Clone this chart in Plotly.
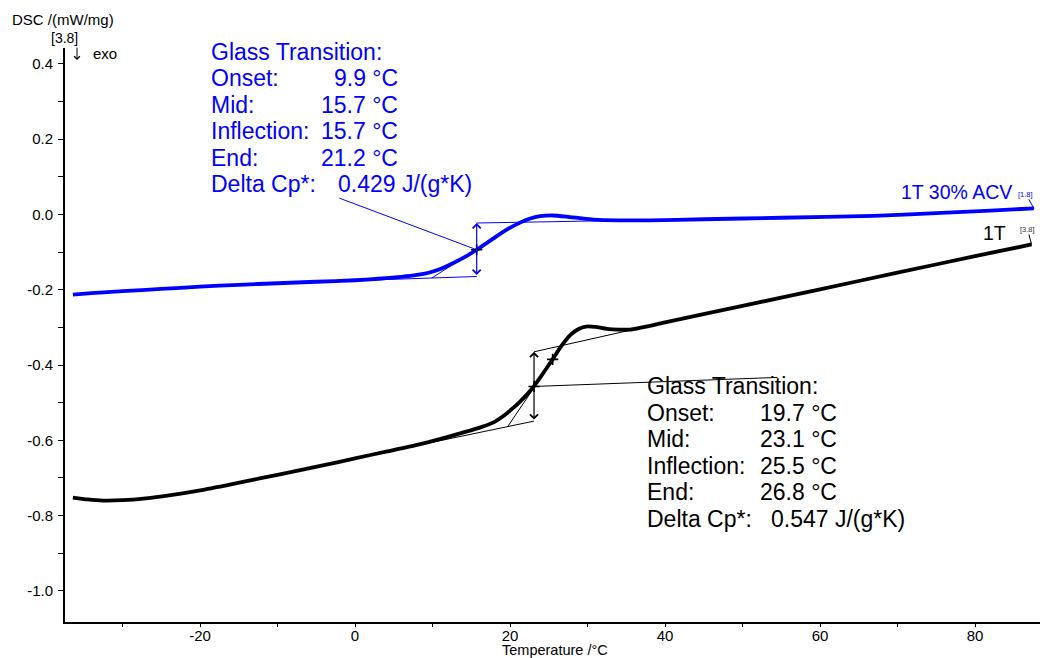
import numpy as np
import plotly.graph_objects as go

# DSC heating curves: temperature (°C) and heat flow (mW/mg), exo down
acv_T = [-36.4, -34, -30, -25, -20, -15, -10, -5, 0, 3, 6, 8, 9.5, 11, 12.7, 14.2,
         15.7, 17, 18.2, 19.8, 21.3, 22.6, 23.9, 25.5, 27.3, 29, 30.8, 34, 38, 45,
         55, 66.9, 75, 82, 87.6]
acv_dsc = [-0.213, -0.209, -0.204, -0.198, -0.192, -0.187, -0.183, -0.179, -0.175,
           -0.171, -0.166, -0.161, -0.155, -0.145, -0.129, -0.113, -0.094, -0.076,
           -0.059, -0.038, -0.022, -0.011, -0.005, -0.003, -0.006, -0.010, -0.014,
           -0.016, -0.016, -0.013, -0.009, -0.004, 0.003, 0.010, 0.016]

ref_T = [-36.4, -34.5, -32.5, -30, -27, -24, -20, -16, -12, -8, -4, 0, 4, 8, 11.4,
         14, 16, 17.8, 19.1, 20.3, 21.3, 22.2, 23.1, 24, 25, 25.5, 26.5, 27.8, 28.8,
         29.8, 31, 32.5, 34, 35.5, 40, 50, 60, 70, 80, 87.3]
ref_dsc = [-0.752, -0.757, -0.760, -0.759, -0.754, -0.746, -0.733, -0.717, -0.700,
           -0.683, -0.666, -0.648, -0.630, -0.612, -0.594, -0.579, -0.567, -0.553,
           -0.536, -0.516, -0.497, -0.478, -0.456, -0.430, -0.400, -0.385, -0.353,
           -0.320, -0.305, -0.298, -0.299, -0.304, -0.306, -0.306, -0.287, -0.243,
           -0.199, -0.155, -0.111, -0.080]

# glass transition evaluation results
gt_labels = ["Onset:", "Mid:", "Inflection:", "End:"]
acv_gt_T = [9.9, 15.7, 15.7, 21.2]
acv_dcp = 0.429
ref_gt_T = [19.7, 23.1, 25.5, 26.8]
ref_dcp = 0.547

# extrapolated baselines of the step evaluation
acv_base_lo_T = [-3.0, 15.7]
acv_base_lo = [-0.178, -0.165]
acv_base_hi_T = [15.7, 35.0]
acv_base_hi = [-0.023, -0.016]
ref_base_lo_T = [0.0, 23.1]
ref_base_lo = [-0.648, -0.549]
ref_base_hi_T = [23.1, 38.0]
ref_base_hi = [-0.365, -0.296]

# axis ticks
x_ticks = [-20, 0, 20, 40, 60, 80]
x_minor = [-30, -10, 10, 30, 50, 70]
y_ticks = [0.4, 0.2, 0.0, -0.2, -0.4, -0.6, -0.8, -1.0]
y_minor = [0.3, 0.1, -0.1, -0.3, -0.5, -0.7, -0.9]

BLUE = "#0000ff"
BLACK = "#000000"
FONT = "Arial, Liberation Sans, sans-serif"

W, H = 1040, 658
ML, MR, MT, MB = 65, 0, 48, 36
PW, PH = W - ML - MR, H - MT - MB


def px(x):
    return (x - ML) / PW


def py(y):
    return (H - MB - y) / PH


def on_line(ts, vs, t):
    return vs[0] + (vs[1] - vs[0]) * (t - ts[0]) / (ts[1] - ts[0])


fig = go.Figure()

# measured curves
fig.add_trace(go.Scatter(x=acv_T, y=acv_dsc, mode="lines",
                         line=dict(color=BLUE, width=3.8, shape="spline", smoothing=0.6),
                         hoverinfo="skip"))
fig.add_trace(go.Scatter(x=ref_T, y=ref_dsc, mode="lines",
                         line=dict(color=BLACK, width=3.8, shape="spline", smoothing=0.6),
                         hoverinfo="skip"))


def add_evaluation(gt_T, base_lo_T, base_lo, base_hi_T, base_hi, curve_T, curve_dsc,
                   color, leader_end):
    onset, mid, infl, end = gt_T
    lo_mid = on_line(base_lo_T, base_lo, mid)
    hi_mid = on_line(base_hi_T, base_hi, mid)
    mid_val = 0.5 * (lo_mid + hi_mid)
    thin = dict(color=color, width=1)
    # baselines
    fig.add_trace(go.Scatter(x=base_lo_T, y=base_lo, mode="lines", line=thin, hoverinfo="skip"))
    fig.add_trace(go.Scatter(x=base_hi_T, y=base_hi, mode="lines", line=thin, hoverinfo="skip"))
    # inflection tangent between onset and end
    fig.add_trace(go.Scatter(x=[onset, end],
                             y=[on_line(base_lo_T, base_lo, onset), on_line(base_hi_T, base_hi, end)],
                             mode="lines", line=thin, hoverinfo="skip"))
    # leader to the result text
    fig.add_trace(go.Scatter(x=[mid, leader_end[0]], y=[mid_val, leader_end[1]],
                             mode="lines", line=thin, hoverinfo="skip"))
    # step height arrow
    fig.add_annotation(x=mid, y=hi_mid, ax=mid, ay=lo_mid, xref="x", yref="y",
                       axref="x", ayref="y", text="", showarrow=True,
                       arrowside="end+start", arrowhead=4, startarrowhead=4,
                       arrowsize=1.3, startarrowsize=1.3, arrowwidth=1.2,
                       arrowcolor=color, standoff=0, startstandoff=0)
    # mid / inflection markers
    pts_T = [mid] if infl == mid else [mid, infl]
    pts_v = [mid_val] + ([] if infl == mid else [float(np.interp(infl, curve_T, curve_dsc))])
    fig.add_trace(go.Scatter(x=pts_T, y=pts_v, mode="markers",
                             marker=dict(symbol="cross-thin", size=8,
                                         line=dict(color=BLACK, width=1.6)),
                             hoverinfo="skip"))


add_evaluation(acv_gt_T, acv_base_lo_T, acv_base_lo, acv_base_hi_T, acv_base_hi,
               acv_T, acv_dsc, BLUE, (-2.0, 0.043))
add_evaluation(ref_gt_T, ref_base_lo_T, ref_base_lo, ref_base_hi_T, ref_base_hi,
               ref_T, ref_dsc, BLACK, (54.5, -0.433))


def text(x, y, s, size, color=BLACK, anchor="left"):
    fig.add_annotation(x=px(x), y=py(y), xref="paper", yref="paper", text=s,
                       showarrow=False, xanchor=anchor, yanchor="middle",
                       font=dict(family=FONT, size=size, color=color), borderpad=0)


def result_block(x0, y0, xval, xdcp, gt_T, dcp, color, right_align):
    step = 26.5
    fs = 23
    text(x0, y0, "Glass Transition:", fs, color)
    for i, (lab, t) in enumerate(zip(gt_labels, gt_T)):
        yy = y0 + step * (i + 1)
        text(x0, yy, lab, fs, color)
        text(xval, yy, f"{t:.1f} °C", fs, color, "right" if right_align else "left")
    text(x0, y0 + step * 5, "Delta Cp*:", fs, color)
    text(xdcp, y0 + step * 5, f"{dcp:.3f} J/(g*K)", fs, color)


result_block(210, 51.5, 399, 337, acv_gt_T, acv_dcp, BLUE, True)
result_block(646, 386, 759, 770, ref_gt_T, ref_dcp, BLACK, False)

# curve names and segment tags
text(956, 192, "1T 30% ACV", 19.5, BLUE, "center")
text(994, 233, "1T", 19.5, BLACK, "center")
fig.add_annotation(x=acv_T[-1], y=acv_dsc[-1], xref="x", yref="y", ax=-8, ay=-14,
                   text="[1.8]", showarrow=True, arrowhead=0, arrowwidth=1,
                   arrowcolor=BLUE, standoff=0, borderpad=0,
                   font=dict(family=FONT, size=7.5, color=BLUE))
fig.add_annotation(x=ref_T[-1], y=ref_dsc[-1], xref="x", yref="y", ax=-4, ay=-15,
                   text="[3.8]", showarrow=True, arrowhead=0, arrowwidth=1,
                   arrowcolor=BLACK, standoff=0, borderpad=0,
                   font=dict(family=FONT, size=7.5, color="#333333"))

# axis captions
text(11, 20, "DSC /(mW/mg)", 15)
text(64, 38, "[3.8]", 14, anchor="center")
# exo direction arrow
fig.add_annotation(x=px(77), y=py(60), xref="paper", yref="paper",
                   ax=0, ay=-14, text="", showarrow=True, arrowhead=4,
                   arrowsize=1.1, arrowwidth=1, arrowcolor=BLACK, standoff=0)
text(92, 53, "exo", 15)
text(555, 650, "Temperature /°C", 14.5, anchor="center")

fig.update_layout(
    width=W, height=H,
    margin=dict(l=ML, r=MR, t=MT, b=MB, pad=0),
    paper_bgcolor="white", plot_bgcolor="white",
    showlegend=False,
    font=dict(family=FONT, size=15, color=BLACK),
    xaxis=dict(range=[(ML - 355) / 7.75, (W - MR - 355) / 7.75],
               showline=True, linecolor=BLACK, linewidth=2, mirror=False,
               showgrid=False, zeroline=False,
               tickvals=x_ticks, ticktext=[f"{v:d}" for v in x_ticks],
               ticks="outside", ticklen=3, tickwidth=1, tickcolor=BLACK,
               ticklabelstandoff=-4,
               tickfont=dict(family=FONT, size=15, color=BLACK),
               minor=dict(tickvals=x_minor, ticks="outside", ticklen=3,
                          tickwidth=1, tickcolor=BLACK)),
    yaxis=dict(range=[-1.0824, 0.4417],
               showline=True, linecolor=BLACK, linewidth=2, mirror=False,
               showgrid=False, zeroline=False,
               tickvals=y_ticks, ticktext=[f"{v:.1f}" for v in y_ticks],
               ticks="outside", ticklen=5, tickwidth=1, tickcolor=BLACK,
               ticklabelstandoff=2,
               tickfont=dict(family=FONT, size=15, color=BLACK),
               minor=dict(tickvals=y_minor, ticks="outside", ticklen=5,
                          tickwidth=1, tickcolor=BLACK)),
)

fig.write_html("out.html")
